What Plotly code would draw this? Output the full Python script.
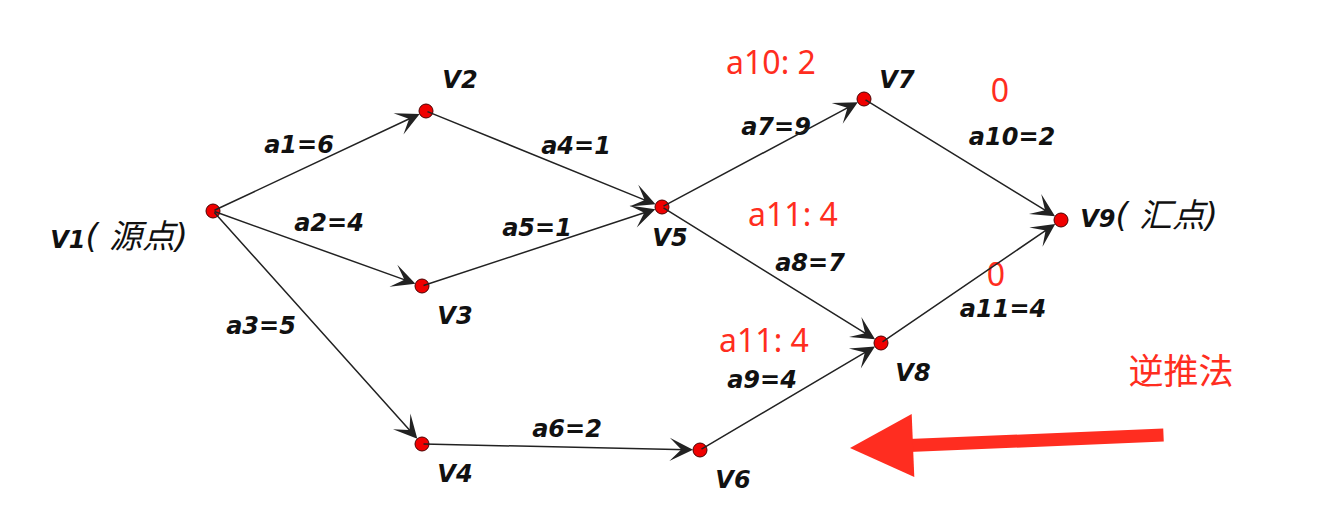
import plotly.graph_objects as go

# Node positions of the activity network (canvas pixels, y grows downwards)
node_names = ["V1", "V2", "V3", "V4", "V5", "V6", "V7", "V8", "V9"]
node_x = [213, 426, 422, 422, 662, 700, 864, 881, 1061]
node_y = [211, 111, 286, 444, 207, 450, 99, 343, 220]
cjk = "<span style='font-size:33px;font-weight:normal'>( {})</span>"
node_text = ["V1" + cjk.format("源点"), "V2", "V3", "V4", "V5",
             "V6", "V7", "V8", "V9" + cjk.format("汇点")]
node_text_x = [119, 460, 455, 455, 670, 733, 897, 913, 1149]
node_text_y = [242, 82, 318, 476, 240, 482, 82, 375, 221]

# Activities: source, target, label
edge_src = ["V1", "V1", "V1", "V2", "V3", "V4", "V5", "V5", "V6", "V7", "V8"]
edge_dst = ["V2", "V3", "V4", "V5", "V5", "V6", "V7", "V8", "V8", "V9", "V9"]
edge_text = ["a1=6", "a2=4", "a3=5", "a4=1", "a5=1", "a6=2",
             "a7=9", "a8=7", "a9=4", "a10=2", "a11=4"]
edge_text_x = [299, 329, 261, 576, 537, 567, 776, 810, 762, 1012, 1003]
edge_text_y = [147, 225, 328, 148, 230, 431, 129, 265, 382, 139, 311]

# Red handwritten notes (backward pass)
note_text = ["a10: 2", "0", "a11: 4", "0", "a11: 4", "逆推法"]
note_x = [771, 1000, 793, 996, 764, 1181]
note_y = [66, 94, 218, 278, 344, 375]

RED = "#ff2d20"
pos = {n: (x, y) for n, x, y in zip(node_names, node_x, node_y)}

fig = go.Figure()

# edges with arrowheads
for s, d in zip(edge_src, edge_dst):
    x0, y0 = pos[s]
    x1, y1 = pos[d]
    fig.add_annotation(
        x=x1, y=y1, ax=x0, ay=y0, xref="x", yref="y", axref="x", ayref="y",
        showarrow=True, arrowhead=3, arrowsize=2.6, arrowwidth=1.5,
        arrowcolor="#222222", standoff=7, text="",
    )

# nodes
fig.add_trace(go.Scatter(
    x=node_x, y=node_y, mode="markers",
    marker=dict(size=14, color="#f00000", line=dict(width=1, color="#4a0000")),
    hoverinfo="skip", showlegend=False,
))

black_font = dict(family="DejaVu Sans, Noto Sans CJK SC", size=24, color="#111111",
                  weight="bold", style="italic")

fig.add_trace(go.Scatter(
    x=node_text_x, y=node_text_y, mode="text", text=node_text,
    textfont=black_font, hoverinfo="skip", showlegend=False,
))
fig.add_trace(go.Scatter(
    x=edge_text_x, y=edge_text_y, mode="text", text=edge_text,
    textfont=black_font, hoverinfo="skip", showlegend=False,
))

# red notes
note_size = [32, 32, 32, 32, 32, 35]
fig.add_trace(go.Scatter(
    x=note_x, y=note_y, mode="text", text=note_text,
    textfont=dict(family="Noto Sans, Noto Sans CJK SC", size=note_size, color=RED),
    hoverinfo="skip", showlegend=False,
))

# big red arrow pointing left
fig.add_annotation(
    x=850, y=448, ax=1165, ay=435, xref="x", yref="y", axref="x", ayref="y",
    showarrow=True, arrowhead=2, arrowsize=0.97, arrowwidth=13,
    arrowcolor=RED, text="",
)

# the page body has an 8px margin, so the plot starts at pixel 8
fig.update_xaxes(range=[8, 1336], visible=False, fixedrange=True)
fig.update_yaxes(range=[520, 8], visible=False, fixedrange=True)
fig.update_layout(
    width=1328, height=512,
    margin=dict(l=0, r=0, t=0, b=0),
    plot_bgcolor="white", paper_bgcolor="white",
    showlegend=False,
)

fig.write_html("out.html")
